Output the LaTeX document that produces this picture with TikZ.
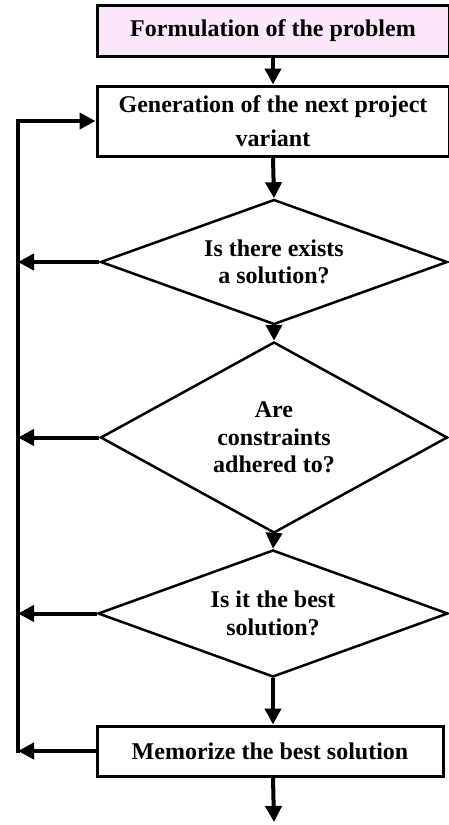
\documentclass[tikz,border=0pt]{standalone}
\usepackage{fontspec}
\setmainfont{Liberation Serif}
\usetikzlibrary{shapes.geometric,arrows.meta}
\definecolor{pinkfill}{RGB}{252,230,252}
\begin{document}
\begin{tikzpicture}[x=1pt,y=-1pt,
 box/.style={draw,line width=3pt,rectangle,inner sep=0pt,align=center,font=\fontsize{24}{27}\selectfont\bfseries},
 dec/.style={draw,line width=2.5pt,diamond,aspect=2.8,inner sep=0pt,align=center,font=\fontsize{24}{27.5}\selectfont\bfseries},
 arr/.style={line width=4pt,-{Triangle[length=16pt,width=16pt]}},
 lnk/.style={line width=4pt}]
\useasboundingbox (0,0) rectangle (449,825);
\node[box,fill=pinkfill,minimum width=352pt,minimum height=51pt] (b1) at (273,30.5) {Formulation of the problem};
\node[box,minimum width=352pt,minimum height=70pt,font=\fontsize{24}{34}\selectfont\bfseries] (b2) at (273,121) {Generation of the next project\\variant};
\node[dec,minimum width=347pt,minimum height=125pt] (d1) at (274,262) {Is there exists\\a solution?};
\node[dec,minimum width=347pt,minimum height=191pt] (d2) at (274,437.5) {Are\\constraints\\adhered to?};
\node[dec,minimum width=350pt,minimum height=127pt] (d3) at (273,613.5) {Is it the best\\solution?};
\node[box,minimum width=346pt,minimum height=50pt] (b3) at (270,751) {Memorize the best solution};
\coordinate (lb) at (18,751);
\coordinate (lt) at (18,121);
\coordinate (bot) at (274,822);
\draw[arr] (b1.south) -- (b2.north);
\draw[arr] (b2.south) -- (d1.north);
\draw[arr] (d1.south) -- (d2.north);
\draw[arr] (d2.south) -- (d3.north);
\draw[arr] (d3.south) -- (d3.south |- b3.north);
\draw[arr] (b3.south -| d3.south) -- (bot);
\draw[arr] (b3.west) -- (lb);
\draw[arr,line cap=rect,line join=miter] (lb) -- (lt) -- (b2.west);
\draw[arr] (d1.west) -- (d1.west -| lb);
\draw[arr] (d2.west) -- (d2.west -| lb);
\draw[arr] (d3.west) -- (d3.west -| lb);
\end{tikzpicture}
\end{document}
